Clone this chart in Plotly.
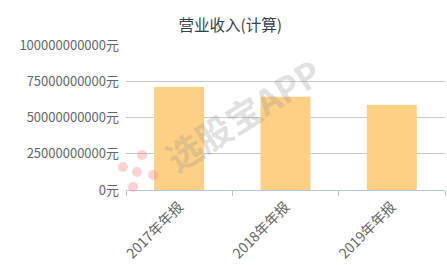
import plotly.graph_objects as go

categories = ["2017年年报", "2018年年报", "2019年年报"]
revenue = [71000000000, 64300000000, 58600000000]
y_ticks = [0, 25000000000, 50000000000, 75000000000, 100000000000]
y_tick_labels = [f"{v}元" for v in y_ticks]

fig = go.Figure()
fig.add_trace(go.Bar(
    x=categories, y=revenue, width=0.47,
    marker=dict(color="#FDD085", line=dict(width=0)),
))

fig.update_layout(
    width=447, height=265,
    margin=dict(l=126, r=2, t=45, b=75),
    paper_bgcolor="white", plot_bgcolor="white",
    font=dict(family="Noto Sans CJK SC, sans-serif", color="#666666", size=13),
    title=dict(text="营业收入(计算)", x=0.515, xanchor="center", y=0.905, yanchor="middle",
               font=dict(size=15.5, color="#34404e")),
    showlegend=False,
)
fig.update_yaxes(
    range=[0, 100000000000], tickvals=y_ticks, ticktext=y_tick_labels,
    showgrid=True, gridcolor="#c4c8d0", gridwidth=1, zeroline=False,
    showline=False, ticks="", ticklen=0, ticklabelstandoff=6,
    tickfont=dict(size=13, color="#666666"), automargin=False,
)
fig.update_xaxes(
    showline=True, linecolor="#b4c8e0", linewidth=1,
    ticks="outside", ticklen=5, tickcolor="#b4c8e0", tickson="boundaries",
    tickangle=-45, tickfont=dict(size=14, color="#666666"),
    ticklabelstandoff=2, automargin=False,
    showgrid=False,
)
# watermark
fig.add_annotation(
    text="<b>选股宝APP</b>", xref="paper", yref="paper", x=0.365, y=0.53,
    showarrow=False, textangle=-32,
    font=dict(size=35, color="rgba(150,150,150,0.3)", family="Noto Sans CJK SC"),
)
for cx, cy, r in [(123, 167, 5), (142, 155, 5), (137, 172, 5), (153, 175, 5), (133, 187, 5)]:
    fig.add_shape(
        type="circle", xref="paper", yref="paper",
        x0=(cx - r - 126) / 319, x1=(cx + r - 126) / 319,
        y0=(190 - cy - r) / 145, y1=(190 - cy + r) / 145,
        fillcolor="rgba(240,130,130,0.35)", line=dict(width=0), layer="above",
    )
fig.write_html("out.html")
